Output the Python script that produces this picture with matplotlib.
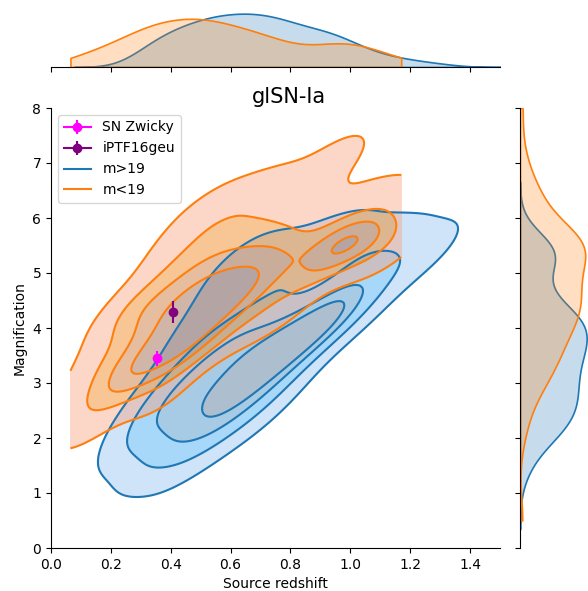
import matplotlib
matplotlib.use("Agg")
import matplotlib.pyplot as plt
import seaborn as sns
from matplotlib.lines import Line2D

# m<19 sample: source redshift and magnification
bright_z = [0.065,
            0.11, 0.13, 0.15, 0.18,
            0.21, 0.22, 0.24, 0.25, 0.26, 0.27, 0.28, 0.29,
            0.30, 0.31, 0.32, 0.33, 0.34, 0.35, 0.36, 0.36, 0.37, 0.38, 0.39, 0.39,
            0.40, 0.41, 0.42, 0.42, 0.43, 0.44, 0.45, 0.45, 0.46, 0.47, 0.48, 0.48, 0.49, 0.49,
            0.50, 0.51, 0.52, 0.52, 0.53, 0.54, 0.55, 0.55, 0.56, 0.57, 0.58, 0.59, 0.59,
            0.60, 0.61, 0.62, 0.63, 0.64, 0.65, 0.66, 0.67, 0.68, 0.69, 0.69,
            0.71, 0.72, 0.73, 0.74, 0.76, 0.77, 0.78, 0.79,
            0.81, 0.84, 0.86, 0.89,
            0.91, 0.93, 0.94, 0.95, 0.96, 0.97, 0.98, 0.99,
            1.01, 1.02, 1.03, 1.05, 1.07, 1.09,
            1.12, 1.15, 1.17,
            0.14, 0.30]
bright_mu = [2.3,
             2.1, 2.8, 3.2, 3.5,
             2.7, 4.0, 3.0, 3.1, 4.4, 3.3, 4.3, 3.4,
             3.7, 3.0, 4.1, 3.4, 4.7, 3.8, 2.7, 4.3, 3.5, 5.2, 4.0, 3.2,
             4.4, 3.7, 4.9, 3.4, 4.2, 5.6, 3.9, 4.6, 3.6, 4.3, 5.1, 4.0, 6.0, 4.7,
             3.9, 4.5, 5.3, 4.1, 4.9, 3.7, 5.7, 4.4, 4.8, 6.3, 4.3, 5.1, 4.6,
             5.5, 4.4, 4.9, 6.1, 4.6, 5.2, 4.0, 5.7, 4.8, 6.5, 5.0,
             5.4, 4.5, 6.0, 5.0, 5.6, 4.3, 6.6, 5.2,
             5.5, 4.8, 6.2, 5.1,
             5.6, 6.9, 5.4, 5.7, 5.5, 7.2, 5.5, 5.6,
             5.6, 5.4, 6.4, 5.5, 5.8, 5.3,
             5.8, 6.5, 5.6,
             0.5, 8.0]

# m>19 sample
faint_z = [0.31,
           0.30, 0.34,
           0.32, 0.36, 0.35, 0.36, 0.42, 0.39,
           0.40, 0.41, 0.42, 0.43, 0.44, 0.45, 0.46, 0.47, 0.48, 0.49, 0.49,
           0.50, 0.51, 0.52, 0.52, 0.53, 0.54, 0.55, 0.55, 0.56, 0.57, 0.58, 0.58, 0.59, 0.59, 0.60,
           0.61, 0.62, 0.62, 0.63, 0.64, 0.65, 0.65, 0.66, 0.67, 0.67, 0.68, 0.69, 0.69, 0.70, 0.70,
           0.71, 0.72, 0.73, 0.74, 0.74, 0.75, 0.76, 0.77, 0.77, 0.78, 0.79, 0.79, 0.80,
           0.81, 0.82, 0.83, 0.84, 0.85, 0.86, 0.87, 0.88, 0.89, 0.90,
           0.91, 0.92, 0.93, 0.94, 0.95, 0.96, 0.97, 0.98, 0.99,
           1.01, 1.03, 1.05, 1.07, 1.09,
           1.13, 1.17, 1.21, 1.29]
faint_mu = [2.0,
            2.1, 1.5,
            2.4, 1.8, 2.7, 2.2, 1.4, 2.6,
            3.0, 2.2, 2.7, 1.9, 3.3, 2.3, 2.8, 3.8, 2.0, 3.1, 2.5,
            2.6, 3.4, 2.2, 4.2, 2.9, 2.4, 3.6, 1.9, 3.2, 2.3, 4.8, 2.8, 3.5, 2.5, 3.9,
            3.0, 2.5, 3.7, 5.3, 3.2, 2.7, 4.2, 3.5, 2.9, 4.8, 3.3, 2.4, 3.9, 3.1, 3.6,
            4.2, 3.0, 3.5, 3.9, 5.4, 3.2, 3.7, 2.9, 4.2, 3.5, 3.9, 4.9, 3.4,
            3.9, 3.6, 5.2, 3.7, 4.2, 4.0, 5.5, 3.8, 4.3, 4.1,
            4.0, 5.4, 4.3, 4.1, 4.4, 4.6, 4.2, 5.6, 4.5,
            5.2, 4.3, 5.5, 4.7, 5.4,
            5.2, 5.5, 5.2, 5.5]

# observed systems: redshift, magnification, magnification error
zwicky = (0.353, 3.45, 0.14)
iptf = (0.409, 4.30, 0.20)

BLUE = "tab:blue"
ORANGE = "tab:orange"
XTICKS = [0.0, 0.2, 0.4, 0.6, 0.8, 1.0, 1.2, 1.4]

fig = plt.figure(figsize=(5.88, 5.91), dpi=100)
ax = fig.add_axes([51 / 588, 43 / 591, 449 / 588, 440 / 591])
ax_top = fig.add_axes([51 / 588, 524 / 591, 449 / 588, 56 / 591])
ax_right = fig.add_axes([520 / 588, 43 / 591, 68 / 588, 440 / 591])

# faint sample uses the default cut, the bright one is cut at its data range
for zs, mus, col, cut, bw in [(faint_z, faint_mu, BLUE, 3, 0.95),
                              (bright_z, bright_mu, ORANGE, 0, 0.7)]:
    sns.kdeplot(x=zs, y=mus, ax=ax, fill=True, levels=5, cut=cut, bw_adjust=bw,
                color=col, alpha=0.42)
    sns.kdeplot(x=zs, y=mus, ax=ax, levels=5, cut=cut, bw_adjust=bw,
                color=col, linewidths=1.5)
    sns.kdeplot(x=zs, ax=ax_top, cut=cut, bw_adjust=0.8, fill=True, color=col, linewidth=1.2)
    sns.kdeplot(y=mus, ax=ax_right, cut=cut, bw_adjust=0.8, fill=True, color=col, linewidth=1.2)

ax.errorbar(zwicky[0], zwicky[1], yerr=zwicky[2], marker="o", color="magenta",
            label="SN Zwicky")
ax.errorbar(iptf[0], iptf[1], yerr=iptf[2], marker="o", color="purple",
            label="iPTF16geu")

handles, labels = ax.get_legend_handles_labels()
handles += [Line2D([], [], color=BLUE), Line2D([], [], color=ORANGE)]
labels += ["m>19", "m<19"]
ax.legend(handles, labels, loc="upper left")

ax.set_xticks(XTICKS)
ax.set_xlim(0, 1.5)
ax.set_ylim(0, 8)
ax.set_xlabel("Source redshift")
ax.set_ylabel("Magnification")
ax.spines["top"].set_visible(False)
ax.spines["right"].set_visible(False)
fig.text(289 / 588, 1 - 103 / 591, "glSN-Ia", ha="center", va="baseline", fontsize=15)

ax_top.set_xticks(XTICKS)
ax_top.set_xlim(0, 1.5)
ax_top.set_ylim(0, ax_top.dataLim.y1 * 1.05)
ax_top.tick_params(labelbottom=False, left=False, labelleft=False)
ax_top.set_xlabel("")
ax_top.set_ylabel("")
for s in ["top", "right", "left"]:
    ax_top.spines[s].set_visible(False)

ax_right.set_ylim(0, 8)
ax_right.set_xlim(0, ax_right.dataLim.x1 * 1.02)
ax_right.tick_params(labelleft=False, bottom=False, labelbottom=False)
ax_right.set_xlabel("")
ax_right.set_ylabel("")
for s in ["top", "right", "bottom"]:
    ax_right.spines[s].set_visible(False)

fig.savefig("out.png", dpi=100)
